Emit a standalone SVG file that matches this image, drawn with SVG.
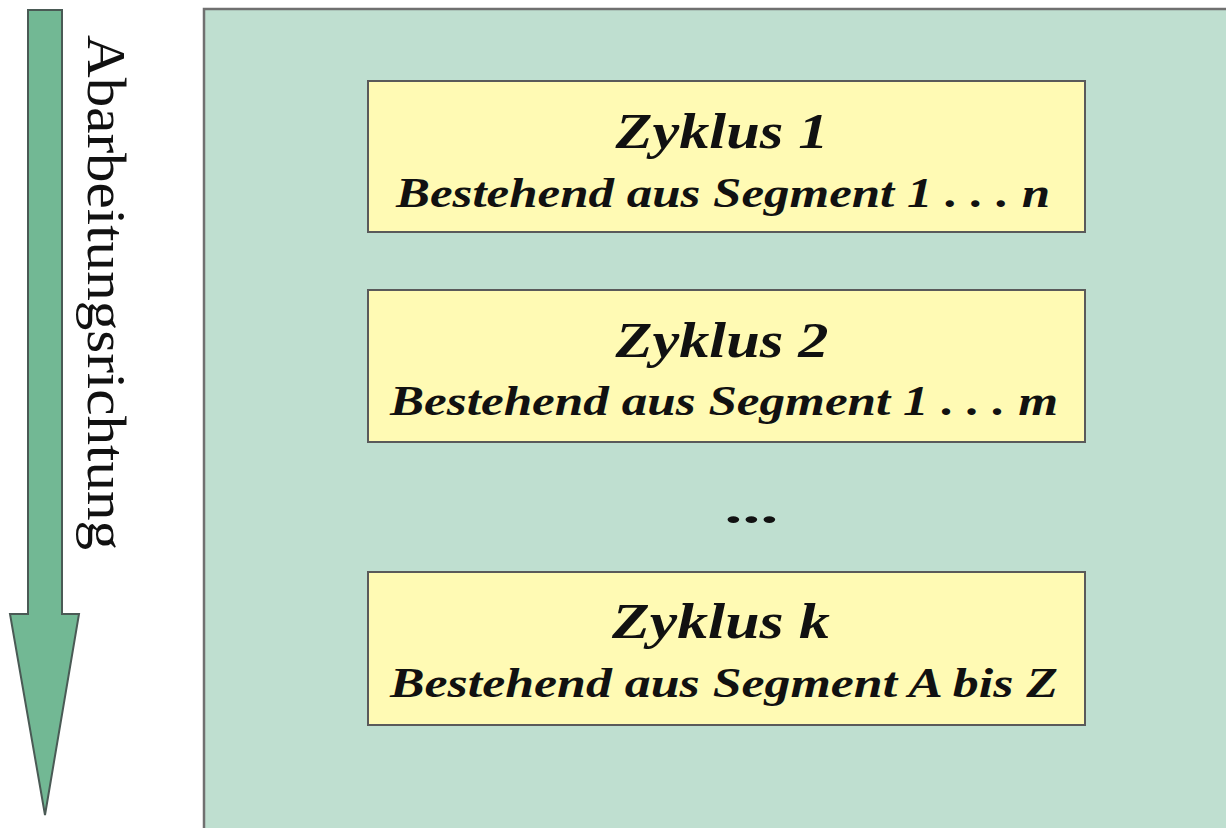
<svg xmlns="http://www.w3.org/2000/svg" width="1226" height="828" viewBox="0 0 1226 828">
  <style>
    .panel { fill: #bfdfd0; stroke: #707070; stroke-width: 2.5; }
    .cycle { fill: #fffab4; stroke: #5a5a5a; stroke-width: 2; }
    .title { font-family: "Liberation Serif", "Times New Roman", serif; font-weight: bold; font-style: italic; font-size: 50px; fill: #111; text-anchor: middle; }
    .sub { font-family: "Liberation Serif", "Times New Roman", serif; font-weight: bold; font-style: italic; font-size: 42px; fill: #111; text-anchor: middle; }
    .dir { font-family: "Liberation Serif", "Times New Roman", serif; font-size: 54px; fill: #111; }
  </style>

  <rect width="1226" height="828" fill="#ffffff"/>

  <!-- processing direction arrow -->
  <g id="direction">
    <path d="M28,10 H62 V614 H79 L45,815 L10,614 H28 Z" fill="#72b894" stroke="#4a5a55" stroke-width="2" stroke-linejoin="miter"/>
    <text class="dir" transform="translate(88,35) rotate(90)" textLength="515" lengthAdjust="spacingAndGlyphs">Abarbeitungsrichtung</text>
  </g>

  <!-- container -->
  <g id="container">
    <rect class="panel" x="204" y="9" width="1040" height="840"/>
  </g>

  <g id="cycle1">
    <rect class="cycle" x="368" y="81" width="717" height="151"/>
    <text class="title" x="722" y="148" textLength="213" lengthAdjust="spacingAndGlyphs">Zyklus 1</text>
    <text class="sub" x="723" y="207" textLength="654" lengthAdjust="spacingAndGlyphs">Bestehend aus Segment 1 . . . n</text>
  </g>

  <g id="cycle2">
    <rect class="cycle" x="368" y="290" width="717" height="152"/>
    <text class="title" x="722" y="357" textLength="213" lengthAdjust="spacingAndGlyphs">Zyklus 2</text>
    <text class="sub" x="724" y="415" textLength="668" lengthAdjust="spacingAndGlyphs">Bestehend aus Segment 1 . . . m</text>
  </g>

  <g id="ellipsis">
    <text class="sub" x="754" y="523" font-size="50" textLength="54" lengthAdjust="spacingAndGlyphs">...</text>
  </g>

  <g id="cyclek">
    <rect class="cycle" x="368" y="572" width="717" height="153"/>
    <text class="title" x="721" y="638" textLength="218" lengthAdjust="spacingAndGlyphs">Zyklus k</text>
    <text class="sub" x="724" y="697" textLength="668" lengthAdjust="spacingAndGlyphs">Bestehend aus Segment A bis Z</text>
  </g>

  <g id="connectors"/>
</svg>
